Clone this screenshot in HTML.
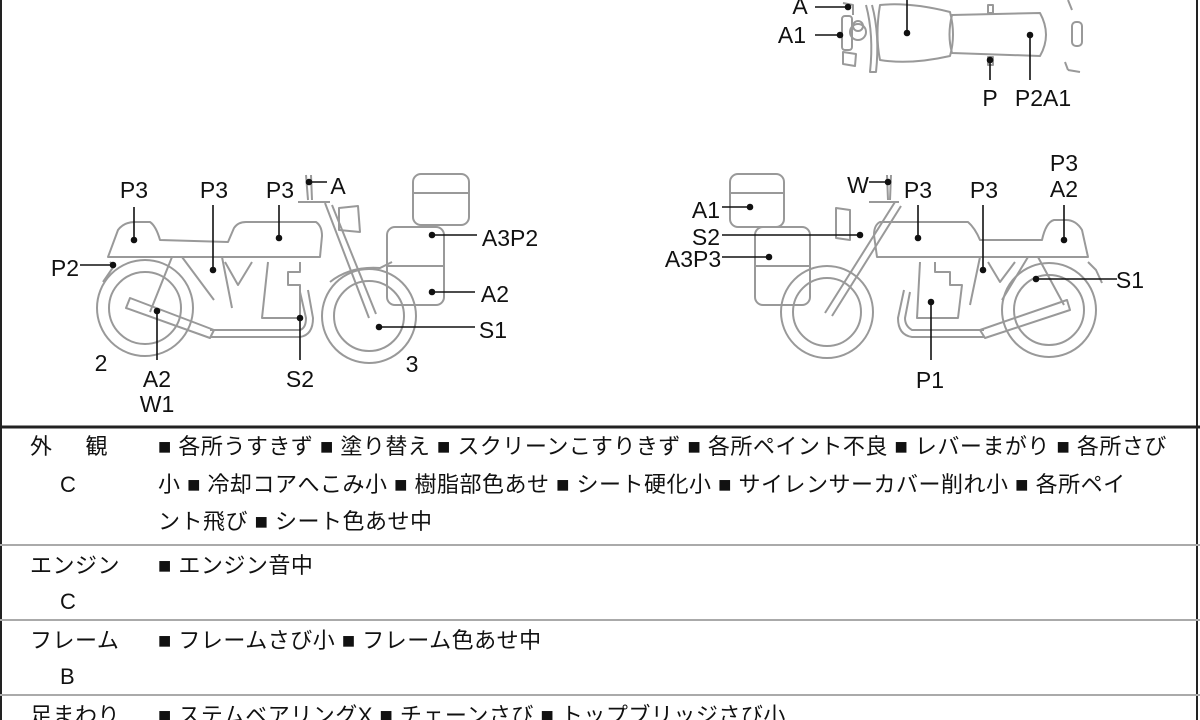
<!DOCTYPE html>
<html><head><meta charset="utf-8"><style>
html,body{margin:0;padding:0;background:#fff;}
#wrap{position:relative;width:1200px;height:720px;overflow:hidden;font-family:"Liberation Sans","Noto Sans CJK JP",sans-serif;}
svg{position:absolute;left:0;top:0;}
.t{position:absolute;font-size:22px;letter-spacing:0.5px;color:#111;white-space:nowrap;line-height:1;}
</style></head><body><div id="wrap">
<svg width="1200" height="720" viewBox="0 0 1200 720">
<g fill="none" stroke="#999" stroke-width="2" stroke-linejoin="round">
<!-- LEFT BIKE -->
<circle cx="145" cy="308" r="48"/><circle cx="145" cy="308" r="36"/>
<circle cx="369" cy="316" r="47"/><circle cx="369" cy="316" r="35"/>
<path d="M108 257 L118 230 Q124 222 135 222 L150 222 Q156 226 160 240 L228 242 L234 228 Q238 222 246 222 L316 222 Q322 226 322 236 L320 257 Z"/>
<line x1="108" y1="257" x2="320" y2="257"/>
<path d="M110 262 L114 266 L103 282"/>
<path d="M172 257 L150 312 M182 257 L214 300 M222 257 L232 308 M225 262 L238 285 L252 262"/>
<path d="M268 262 L262 318 L300 318 L300 285 L288 285 L288 272 L300 272 L300 262"/>
<path d="M325 203 L369 318 M332 205 L376 314"/>
<path d="M298 202 L330 202"/><path d="M306 175 L308 200 M311 175 L312 200"/>
<path d="M339 208 L358 206 L360 232 L339 230 Z"/>
<path d="M130 298 L214 330 L210 338 L126 308 Z"/>
<path d="M210 330 L300 330 Q306 328 306 318 L300 292 M210 337 L300 337 Q313 335 313 318 L308 290"/>
<path d="M330 282 Q350 266 380 268 L392 262"/>
<rect x="413" y="174" width="56" height="51" rx="8"/>
<line x1="413" y1="193" x2="469" y2="193"/>
<rect x="387" y="227" width="57" height="78" rx="8"/>
<line x1="387" y1="266" x2="444" y2="266"/>
<!-- RIGHT BIKE -->
<circle cx="827" cy="312" r="46"/><circle cx="827" cy="312" r="34"/>
<circle cx="1049" cy="310" r="47"/><circle cx="1049" cy="310" r="35"/>
<path d="M1088 257 L1082 230 Q1076 220 1066 220 L1054 220 Q1046 222 1042 240 L980 240 Q975 228 968 222 L880 222 Q874 225 874 235 L877 257 Z"/>
<line x1="877" y1="257" x2="1088" y2="257"/>
<path d="M1088 262 L1096 270 L1102 283"/>
<path d="M1038 257 L1064 305 M1028 257 L1002 300 M980 257 L970 305 M988 262 L1000 282 L1015 262"/>
<path d="M920 262 L917 318 L958 318 L962 285 L950 285 L950 272 L935 272 L935 262"/>
<path d="M895 202 L825 313 M901 206 L832 316"/>
<path d="M869 202 L899 202"/><path d="M887 175 L888 200 M891 175 L890 200"/>
<path d="M836 208 L850 210 L850 240 L836 238 Z"/>
<path d="M1067 300 L980 330 L985 338 L1070 310 Z"/>
<path d="M984 330 L912 330 Q905 326 905 318 L910 292 M984 337 L912 337 Q898 335 898 318 L904 290"/>
<rect x="730" y="174" width="54" height="53" rx="8"/>
<line x1="730" y1="193" x2="784" y2="193"/>
<rect x="755" y="227" width="55" height="78" rx="8"/>
<line x1="755" y1="266" x2="810" y2="266"/>
<!-- TOP VIEW -->
<path d="M880 5 Q875 35 880 60 Q910 65 950 56 Q956 35 950 12 Q910 2 880 5 Z"/>
<path d="M952 15 L1040 13 Q1052 35 1040 56 L952 53 Q947 35 952 15 Z"/>
<rect x="1072" y="22" width="10" height="24" rx="4"/>
<path d="M1068 0 L1072 10 M1068 70 L1080 72 M1065 62 L1068 70"/>
<circle cx="858" cy="32" r="8"/><circle cx="858" cy="26" r="5"/>
<rect x="842" y="16" width="10" height="34" rx="3"/>
<path d="M866 5 Q874 35 870 72 L876 72 Q880 35 872 5"/>
<path d="M843 52 L856 54 L855 66 L843 64 Z M843 3 L853 5 L853 15"/>
<rect x="988" y="5" width="5" height="8"/><rect x="988" y="57" width="5" height="8"/>
</g>
<g stroke="#111" stroke-width="1.6" fill="#111">
<line x1="134" y1="207" x2="134" y2="240"/><circle cx="134" cy="240" r="2.5"/>
<line x1="213" y1="205" x2="213" y2="270"/><circle cx="213" cy="270" r="2.5"/>
<line x1="279" y1="205" x2="279" y2="238"/><circle cx="279" cy="238" r="2.5"/>
<line x1="309" y1="182" x2="327" y2="182"/><circle cx="309" cy="182" r="2.5"/>
<line x1="432" y1="235" x2="477" y2="235"/><circle cx="432" cy="235" r="2.5"/>
<line x1="80" y1="265" x2="113" y2="265"/><circle cx="113" cy="265" r="2.5"/>
<line x1="432" y1="292" x2="475" y2="292"/><circle cx="432" cy="292" r="2.5"/>
<line x1="379" y1="327" x2="475" y2="327"/><circle cx="379" cy="327" r="2.5"/>
<line x1="157" y1="311" x2="157" y2="360"/><circle cx="157" cy="311" r="2.5"/>
<line x1="300" y1="318" x2="300" y2="360"/><circle cx="300" cy="318" r="2.5"/>
<line x1="869" y1="182" x2="888" y2="182"/><circle cx="888" cy="182" r="2.5"/>
<line x1="918" y1="205" x2="918" y2="238"/><circle cx="918" cy="238" r="2.5"/>
<line x1="983" y1="205" x2="983" y2="270"/><circle cx="983" cy="270" r="2.5"/>
<line x1="1064" y1="205" x2="1064" y2="240"/><circle cx="1064" cy="240" r="2.5"/>
<line x1="722" y1="207" x2="750" y2="207"/><circle cx="750" cy="207" r="2.5"/>
<line x1="722" y1="235" x2="860" y2="235"/><circle cx="860" cy="235" r="2.5"/>
<line x1="722" y1="257" x2="769" y2="257"/><circle cx="769" cy="257" r="2.5"/>
<line x1="1036" y1="279" x2="1117" y2="279"/><circle cx="1036" cy="279" r="2.5"/>
<line x1="931" y1="302" x2="931" y2="360"/><circle cx="931" cy="302" r="2.5"/>
<line x1="815" y1="7" x2="848" y2="7"/><circle cx="848" cy="7" r="2.5"/>
<line x1="815" y1="35" x2="840" y2="35"/><circle cx="840" cy="35" r="2.5"/>
<line x1="907" y1="0" x2="907" y2="33"/><circle cx="907" cy="33" r="2.5"/>
<line x1="990" y1="60" x2="990" y2="80"/><circle cx="990" cy="60" r="2.5"/>
<line x1="1030" y1="35" x2="1030" y2="80"/><circle cx="1030" cy="35" r="2.5"/>
</g>
<g font-family="Liberation Sans, DejaVu Sans, sans-serif" font-size="23" fill="#111" text-anchor="middle">
<text x="134" y="198">P3</text><text x="214" y="198">P3</text><text x="280" y="198">P3</text>
<text x="338" y="194">A</text><text x="510" y="246">A3P2</text><text x="65" y="276">P2</text>
<text x="495" y="302">A2</text><text x="493" y="338">S1</text><text x="101" y="371">2</text>
<text x="157" y="387">A2</text><text x="157" y="412">W1</text><text x="300" y="387">S2</text>
<text x="412" y="372">3</text>
<text x="858" y="193">W</text><text x="918" y="198">P3</text><text x="984" y="198">P3</text>
<text x="1064" y="171">P3</text><text x="1064" y="197">A2</text>
<text x="706" y="218">A1</text><text x="706" y="245">S2</text><text x="693" y="267">A3P3</text>
<text x="1130" y="288">S1</text><text x="930" y="388">P1</text>
<text x="800" y="14">A</text><text x="792" y="43">A1</text>
<text x="990" y="106">P</text><text x="1043" y="106">P2A1</text>
</g>
<g stroke="#222">
<line x1="1" y1="0" x2="1" y2="720" stroke-width="2"/>
<line x1="1197" y1="0" x2="1197" y2="720" stroke-width="2"/>
<line x1="0" y1="427" x2="1200" y2="427" stroke-width="3"/>
</g>
<g stroke="#aaa" stroke-width="2">
<line x1="0" y1="545" x2="1200" y2="545"/>
<line x1="0" y1="620" x2="1200" y2="620"/>
<line x1="0" y1="695" x2="1200" y2="695"/>
</g>
</svg>
<div class="t" style="left:30px;top:436px;">外&nbsp;&nbsp;&nbsp;&nbsp;&nbsp;観</div>
<div class="t" style="left:60px;top:474px;">C</div>
<div class="t" style="left:158px;top:436px;">■ 各所うすきず ■ 塗り替え ■ スクリーンこすりきず ■ 各所ペイント不良 ■ レバーまがり ■ 各所さび</div>
<div class="t" style="left:158px;top:474px;">小 ■ 冷却コアへこみ小 ■ 樹脂部色あせ ■ シート硬化小 ■ サイレンサーカバー削れ小 ■ 各所ペイ</div>
<div class="t" style="left:158px;top:511px;">ント飛び ■ シート色あせ中</div>
<div class="t" style="left:30px;top:555px;">エンジン</div>
<div class="t" style="left:60px;top:591px;">C</div>
<div class="t" style="left:158px;top:555px;">■ エンジン音中</div>
<div class="t" style="left:30px;top:630px;">フレーム</div>
<div class="t" style="left:60px;top:666px;">B</div>
<div class="t" style="left:158px;top:630px;">■ フレームさび小 ■ フレーム色あせ中</div>
<div class="t" style="left:30px;top:705px;">足まわり</div>
<div class="t" style="left:158px;top:705px;">■ ステムベアリングX ■ チェーンさび ■ トップブリッジさび小</div>
</div></body></html>
